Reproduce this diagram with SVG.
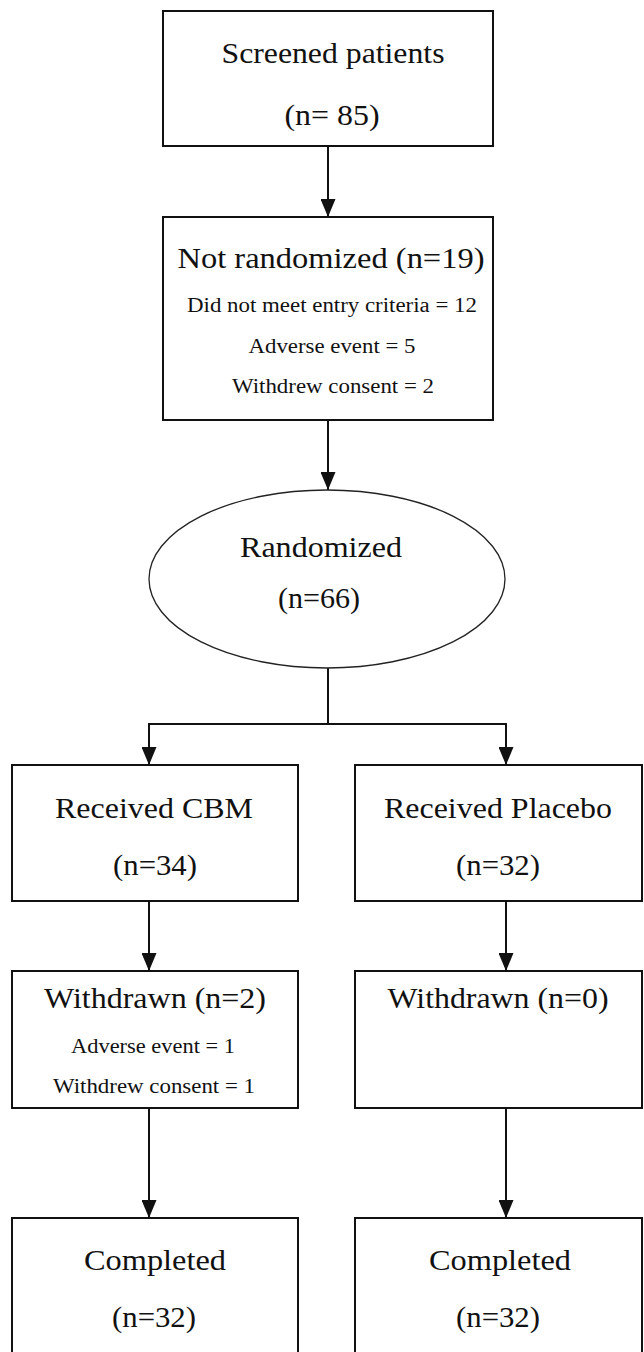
<svg xmlns="http://www.w3.org/2000/svg" width="644" height="1352" viewBox="0 0 644 1352">
<style>
.box{fill:#fff;stroke:#111;stroke-width:2}
.ell{fill:#fff;stroke:#222;stroke-width:1.3}
.big{font-family:"Liberation Serif","Times New Roman",serif;font-size:29px;fill:#111;text-anchor:middle}
.sm{font-family:"Liberation Serif","Times New Roman",serif;font-size:20px;fill:#111;text-anchor:middle}
.ln{fill:none;stroke:#111;stroke-width:2}
</style>
<defs>
<marker id="ah" viewBox="0 0 18 15" refX="18" refY="7.5" markerWidth="18" markerHeight="15" markerUnits="userSpaceOnUse" orient="auto">
<path d="M0,0 L18,7.5 L0,15 Z" fill="#111"/>
</marker>
</defs>
<rect width="644" height="1352" fill="#fff"/>
<g id="connectors">
<line class="ln" x1="328" y1="146" x2="328" y2="217" marker-end="url(#ah)"/>
<line class="ln" x1="328" y1="420" x2="328" y2="490" marker-end="url(#ah)"/>
<polyline class="ln" points="328,668 328,724"/>
<polyline class="ln" points="149,724 506,724"/>
<line class="ln" x1="149" y1="723" x2="149" y2="765" marker-end="url(#ah)"/>
<line class="ln" x1="506" y1="723" x2="506" y2="765" marker-end="url(#ah)"/>
<line class="ln" x1="149" y1="901" x2="149" y2="971" marker-end="url(#ah)"/>
<line class="ln" x1="506" y1="901" x2="506" y2="971" marker-end="url(#ah)"/>
<line class="ln" x1="149" y1="1108" x2="149" y2="1218" marker-end="url(#ah)"/>
<line class="ln" x1="506" y1="1108" x2="506" y2="1218" marker-end="url(#ah)"/>
</g>
<g id="screened">
<rect class="box" x="163" y="11" width="330" height="135"/>
<text class="big" x="333" y="63" textLength="223" lengthAdjust="spacingAndGlyphs">Screened patients</text>
<text class="big" x="332" y="125" textLength="95" lengthAdjust="spacingAndGlyphs">(n= 85)</text>
</g>
<g id="not-randomized">
<rect class="box" x="163" y="217" width="330" height="203"/>
<text class="big" x="331" y="268" textLength="307" lengthAdjust="spacingAndGlyphs">Not randomized  (n=19)</text>
<text class="sm" x="332" y="312" textLength="290" lengthAdjust="spacingAndGlyphs">Did not meet entry criteria = 12</text>
<text class="sm" x="332" y="353" textLength="167" lengthAdjust="spacingAndGlyphs">Adverse event = 5</text>
<text class="sm" x="333" y="393" textLength="202" lengthAdjust="spacingAndGlyphs">Withdrew consent = 2</text>
</g>
<g id="randomized">
<ellipse class="ell" cx="327" cy="579" rx="178" ry="89"/>
<text class="big" x="321" y="557" textLength="162" lengthAdjust="spacingAndGlyphs">Randomized</text>
<text class="big" x="319" y="608" textLength="82" lengthAdjust="spacingAndGlyphs">(n=66)</text>
</g>
<g id="received-cbm">
<rect class="box" x="12" y="765" width="286" height="136"/>
<text class="big" x="154" y="818" textLength="198" lengthAdjust="spacingAndGlyphs">Received CBM</text>
<text class="big" x="155" y="875" textLength="84" lengthAdjust="spacingAndGlyphs">(n=34)</text>
</g>
<g id="received-placebo">
<rect class="box" x="355" y="765" width="287" height="136"/>
<text class="big" x="498" y="818" textLength="228" lengthAdjust="spacingAndGlyphs">Received Placebo</text>
<text class="big" x="498" y="875" textLength="84" lengthAdjust="spacingAndGlyphs">(n=32)</text>
</g>
<g id="withdrawn-cbm">
<rect class="box" x="12" y="971" width="286" height="137"/>
<text class="big" x="155" y="1008" textLength="222" lengthAdjust="spacingAndGlyphs">Withdrawn (n=2)</text>
<text class="sm" x="153" y="1053" textLength="164" lengthAdjust="spacingAndGlyphs">Adverse event = 1</text>
<text class="sm" x="154" y="1093" textLength="202" lengthAdjust="spacingAndGlyphs">Withdrew consent = 1</text>
</g>
<g id="withdrawn-placebo">
<rect class="box" x="355" y="971" width="287" height="137"/>
<text class="big" x="498" y="1008" textLength="221" lengthAdjust="spacingAndGlyphs">Withdrawn (n=0)</text>
</g>
<g id="completed-cbm">
<rect class="box" x="12" y="1218" width="286" height="150"/>
<text class="big" x="155" y="1270" textLength="142" lengthAdjust="spacingAndGlyphs">Completed</text>
<text class="big" x="154" y="1327" textLength="84" lengthAdjust="spacingAndGlyphs">(n=32)</text>
</g>
<g id="completed-placebo">
<rect class="box" x="355" y="1218" width="287" height="150"/>
<text class="big" x="500" y="1270" textLength="142" lengthAdjust="spacingAndGlyphs">Completed</text>
<text class="big" x="498" y="1327" textLength="84" lengthAdjust="spacingAndGlyphs">(n=32)</text>
</g>
</svg>
